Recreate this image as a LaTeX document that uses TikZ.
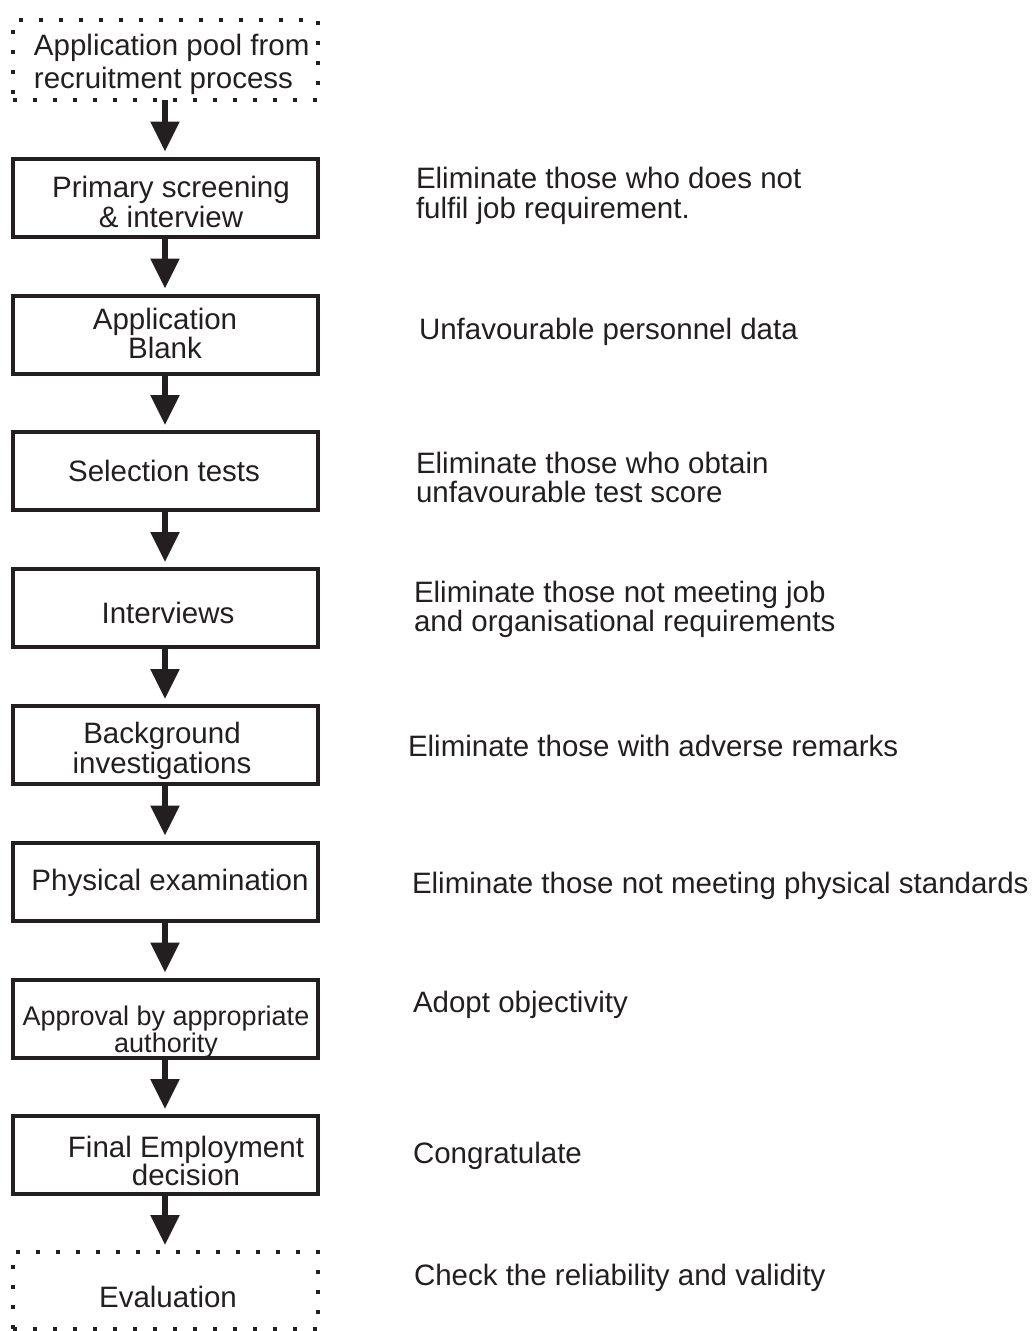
\documentclass[tikz,border=0pt]{standalone}
\usepackage{fontspec}
\setmainfont{Liberation Sans}
\usetikzlibrary{arrows.meta}
\definecolor{ink}{HTML}{231F20}
\newcommand{\cstack}[2]{\vtop{\baselineskip=#1pt\lineskiplimit=-100pt\halign{\hfil##\hfil\cr#2\crcr}}}
\newcommand{\lstack}[2]{\vtop{\baselineskip=#1pt\lineskiplimit=-100pt\halign{##\hfil\cr#2\crcr}}}
\begin{document}
\begin{tikzpicture}[x=1pt,y=-1pt,
  every node/.style={inner sep=0pt, outer sep=0pt, text=ink, font={\fontsize{29.5pt}{30pt}\selectfont}},
  box/.style={draw=ink, line width=4pt, minimum width=305pt, minimum height=78pt},
  dotbox/.style={draw=ink, line width=4pt, dash pattern=on 4pt off 16pt, minimum width=305pt, minimum height=80pt},
  smalltext/.style={font={\fontsize{27pt}{27pt}\selectfont}},
  arr/.style={draw=ink, fill=ink, line width=5.5pt, -{Triangle[width=28pt,length=30pt]}, shorten >=7pt}]
\useasboundingbox (0,0) rectangle (1034,1331);
% boxes
\node[dotbox] (b0) at (165,60) {};
\node[box] (b1) at (165,197.5) {};
\node[box] (b2) at (165,334.5) {};
\node[box] (b3) at (165,471) {};
\node[box] (b4) at (165,608) {};
\node[box] (b5) at (165,745) {};
\node[box] (b6) at (165,881.5) {};
\node[box] (b7) at (165,1018.5) {};
\node[box] (b8) at (165,1155) {};
\node[dotbox, minimum height=77pt] (b9) at (165,1290.5) {};
% box texts
\node[anchor=base west] (t0) at (34,55) {\lstack{33}{Application pool from\cr recruitment process}};
\node[anchor=base] (t1) at (171,197) {\cstack{30}{Primary screening\cr \& interview}};
\node[anchor=base] (t2) at (165,329) {\cstack{29}{Application\cr Blank}};
\node[anchor=base] (t3) at (164,481) {Selection tests};
\node[anchor=base] (t4) at (168,623) {Interviews};
\node[anchor=base] (t5) at (162,743) {\cstack{30}{Background\cr investigations}};
\node[anchor=base] (t6) at (170,890) {Physical examination};
\node[anchor=base, smalltext] (t7) at (166,1025) {\cstack{27}{Approval by appropriate\cr authority}};
\node[anchor=base] (t8) at (186,1157) {\cstack{28}{Final Employment\cr decision}};
\node[anchor=base] (t9) at (168,1307) {Evaluation};
% right texts
\node[anchor=base west] (r1) at (416,188) {\lstack{30}{Eliminate those who does not\cr fulfil job requirement.}};
\node[anchor=base west] (r2) at (419,339) {Unfavourable personnel data};
\node[anchor=base west] (r3) at (416,473) {\lstack{29}{Eliminate those who obtain\cr unfavourable test score}};
\node[anchor=base west] (r4) at (414,602) {\lstack{29}{Eliminate those not meeting job\cr and organisational requirements}};
\node[anchor=base west] (r5) at (408,756) {Eliminate those with adverse remarks};
\node[anchor=base west] (r6) at (412,893) {Eliminate those not meeting physical standards};
\node[anchor=base west] (r7) at (413,1012) {Adopt objectivity};
\node[anchor=base west] (r8) at (413,1163) {Congratulate};
\node[anchor=base west] (r9) at (414,1285) {Check the reliability and validity};
% arrows
\draw[arr] (b0.south) -- (b1.north);
\draw[arr] (b1.south) -- (b2.north);
\draw[arr] (b2.south) -- (b3.north);
\draw[arr] (b3.south) -- (b4.north);
\draw[arr] (b4.south) -- (b5.north);
\draw[arr] (b5.south) -- (b6.north);
\draw[arr] (b6.south) -- (b7.north);
\draw[arr] (b7.south) -- (b8.north);
\draw[arr] (b8.south) -- (b9.north);
\end{tikzpicture}
\end{document}
